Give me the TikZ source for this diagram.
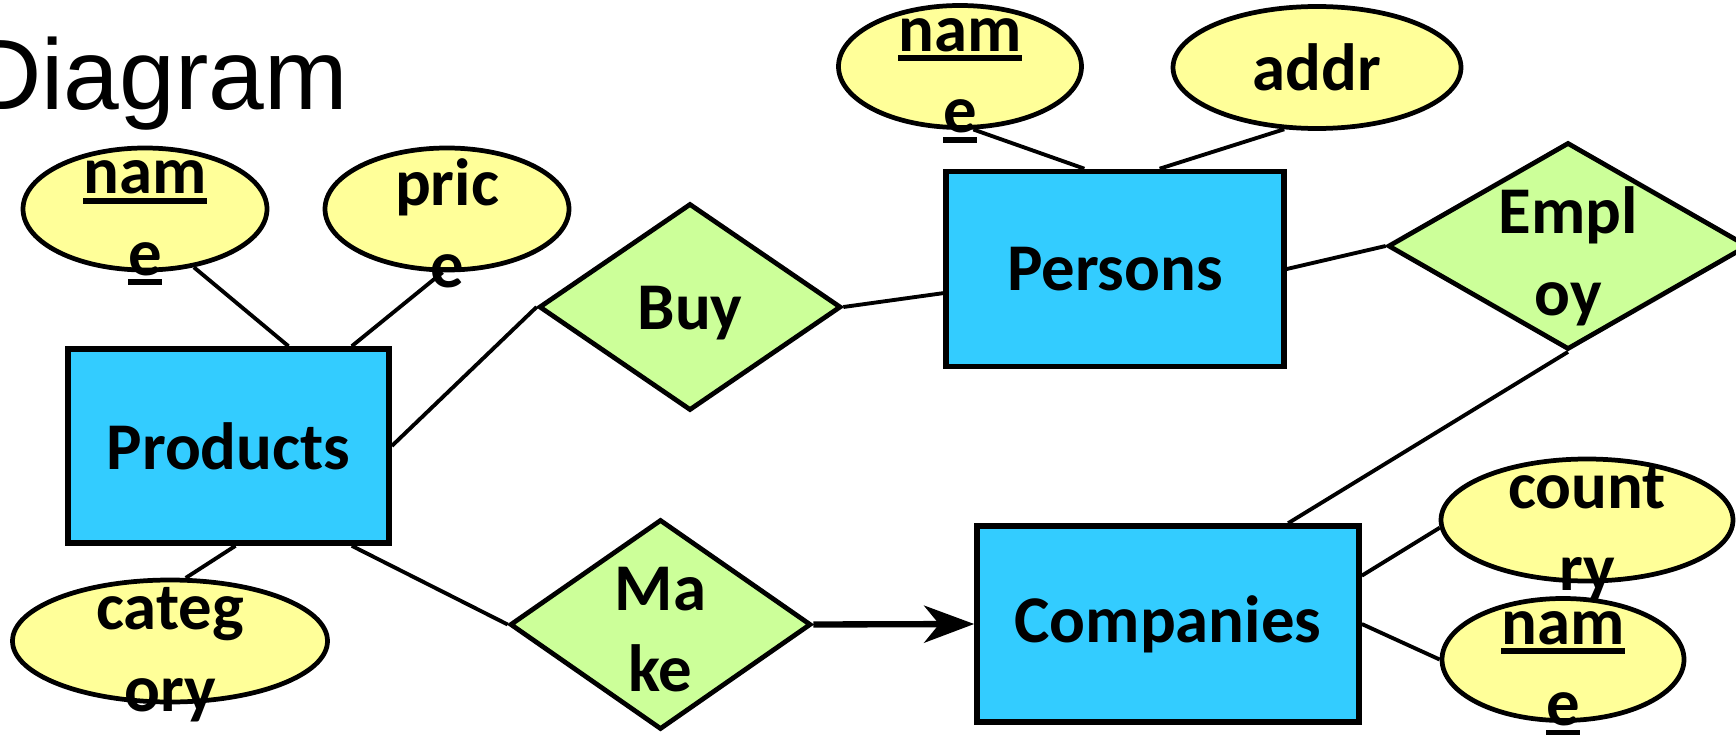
\documentclass[tikz,border=0pt]{standalone}
\usepackage{fontspec}
\setmainfont{Carlito}
\newfontfamily\titlefont{Liberation Sans}
\usepackage{tikz}
\usetikzlibrary{shapes.geometric, arrows.meta}
\definecolor{entityfill}{RGB}{51, 204, 255}
\definecolor{attrfill}{RGB}{255, 255, 153}
\definecolor{relfill}{RGB}{204, 255, 153}
\newcommand{\erfont}{\fontsize{38}{46.5}\selectfont\bfseries}
% thick underline for key attributes
\newcommand{\keyline}[1]{\setbox0\hbox{#1}\rlap{\vrule height -2.3pt depth 5.7pt width \wd0}\box0}

\begin{document}
\begin{tikzpicture}[
    entity/.style={draw, line width=3.2pt, fill=entityfill, font=\erfont, inner sep=0pt},
    attr/.style={ellipse, draw, line width=2.7pt, fill=attrfill, inner sep=0pt,
                 minimum height=2.44cm},
    relship/.style={diamond, draw, line width=2.7pt, fill=relfill, inner sep=0pt},
    txt/.style={font=\erfont, align=center},
    link/.style={line width=2.2pt},
    isa/.style={line width=3.6pt, -{Stealth[length=1cm, width=0.74cm, inset=0.3cm]}}
]
    \useasboundingbox (0,0) rectangle (34.72,14.68);

    % ==================== TITLE ====================
    \node[font=\titlefont\fontsize{57}{62}\selectfont, anchor=base east] (title)
        at (7.08,12.48) {Diagram};

    % ==================== ENTITIES ====================
    \node[entity, minimum width=6.42cm, minimum height=3.88cm] (prod) at (4.57,5.76) {Products};
    \node[entity, minimum width=6.76cm, minimum height=3.9cm] (pers) at (22.3,9.3) {Persons};
    \node[entity, minimum width=7.64cm, minimum height=3.92cm] (comp) at (23.36,2.2) {Companies};

    % ==================== RELATIONSHIPS ====================
    \node[relship, minimum width=6.04cm, minimum height=4.14cm,
          label={[txt, yshift=-0.12cm]center:Buy}] (buy) at (13.8,8.54) {};
    \node[relship, minimum width=6.02cm, minimum height=4.2cm,
          label={[txt, yshift=-0.1cm]center:Ma\\ke}] (make) at (13.21,2.19) {};
    \node[relship, minimum width=7.2cm, minimum height=4.14cm,
          label={[txt, yshift=-0.2cm]center:Empl\\oy}] (emp) at (31.36,9.76) {};

    % ==================== ATTRIBUTES ====================
    \node[attr, minimum width=4.88cm,
          label={[txt, yshift=-0.28cm]center:\keyline{nam}\\\keyline{e}}] (pname) at (2.9,10.5) {};
    \node[attr, minimum width=4.88cm,
          label={[txt, yshift=-0.28cm]center:pric\\e}] (price) at (8.94,10.5) {};
    \node[attr, minimum width=6.3cm,
          label={[txt, yshift=-0.28cm]center:categ\\ory}] (categ) at (3.4,1.86) {};
    \node[attr, minimum width=4.86cm,
          label={[txt, yshift=-0.28cm]center:\keyline{nam}\\\keyline{e}}] (ename) at (19.2,13.35) {};
    \node[attr, minimum width=5.76cm,
          label={[txt]center:addr}] (addr) at (26.34,13.33) {};
    \node[attr, minimum width=5.84cm,
          label={[txt, yshift=-0.28cm]center:count\\ry}] (country) at (31.74,4.28) {};
    \node[attr, minimum width=4.84cm,
          label={[txt, yshift=-0.28cm]center:\keyline{nam}\\\keyline{e}}] (cname) at (31.26,1.49) {};

    % ==================== LINKS ====================
    % Products
    \draw[link] (pname.310) -- (prod.59);
    \draw[link] (price.266) -- (prod.39);
    \draw[link] (prod.274) -- (categ.76);
    \draw[link] (prod.east) -- (buy.west);
    \draw[link] (prod.321) -- (make.west);

    % Persons
    \draw[link] (buy.east) -- (pers.188);
    \draw[link] (ename.282) -- (pers.107);
    \draw[link] (addr.242) -- (pers.66);
    \draw[link] (pers.east) -- (emp.west);

    % Companies
    \draw[link] (emp.south) -- (comp.40);
    \draw[isa] (make.east) -- (comp.west);
    \draw[link] (comp.14) -- (country.183);
    \draw[link] (comp.east) -- (cname.west);
\end{tikzpicture}
\end{document}
